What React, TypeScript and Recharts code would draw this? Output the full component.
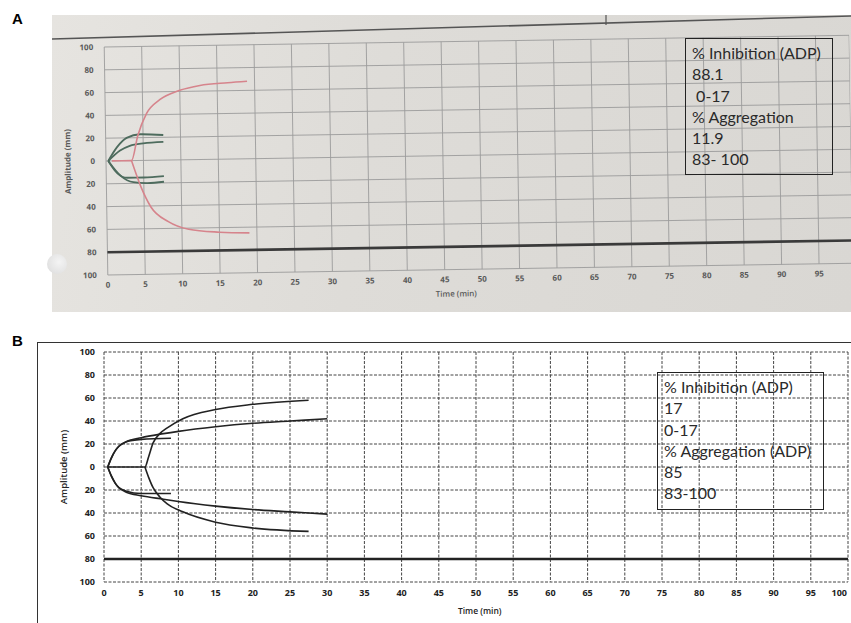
import React from "react";
import { LineChart, Line, XAxis, YAxis, CartesianGrid, ReferenceLine, Label } from "recharts";

// shared axis ticks (amplitude is drawn both ways from 0)
const yTicks = [100, 80, 60, 40, 20, 0, -20, -40, -60, -80, -100];
const xTicksA = [0, 5, 10, 15, 20, 25, 30, 35, 40, 45, 50, 55, 60, 65, 70, 75, 80, 85, 90, 95];
const xTicksB = [0, 5, 10, 15, 20, 25, 30, 35, 40, 45, 50, 55, 60, 65, 70, 75, 80, 85, 90, 95, 100];

// Panel A tracings (t in min, mm amplitude)
const pinkUpperA = [
  { t: 0.8, mm: 0 }, { t: 3.4, mm: 0 }, { t: 4.3, mm: 22 }, { t: 5.5, mm: 41 }, { t: 7.3, mm: 53 },
  { t: 10, mm: 61 }, { t: 12.7, mm: 65 }, { t: 16.4, mm: 67 }, { t: 19, mm: 68 },
];
const pinkLowerA = [
  { t: 3.4, mm: 0 }, { t: 4.6, mm: -23 }, { t: 5.9, mm: -41 }, { t: 8.2, mm: -54 },
  { t: 10.9, mm: -61 }, { t: 15, mm: -64 }, { t: 19, mm: -65 },
];
const greenUpper1A = [{ t: 0.3, mm: 0 }, { t: 1.5, mm: 12 }, { t: 2.8, mm: 20 }, { t: 4.6, mm: 23 }, { t: 7.7, mm: 22 }];
const greenUpper2A = [{ t: 0.3, mm: 0 }, { t: 1.9, mm: 9 }, { t: 3.2, mm: 13 }, { t: 5, mm: 15 }, { t: 7.7, mm: 16 }];
const greenLower1A = [{ t: 0.3, mm: 0 }, { t: 1.9, mm: -13 }, { t: 3.6, mm: -19 }, { t: 5.5, mm: -20 }, { t: 7.7, mm: -19 }];
const greenLower2A = [{ t: 0.3, mm: 0 }, { t: 1.5, mm: -11 }, { t: 2.8, mm: -15 }, { t: 5, mm: -15 }, { t: 7.7, mm: -14 }];

// Panel B tracings
const fastUpShortB = [
  { t: 0.5, mm: 0 }, { t: 1, mm: 8 }, { t: 1.5, mm: 14 }, { t: 2, mm: 18 }, { t: 3, mm: 22 }, { t: 5, mm: 24 }, { t: 9, mm: 25 },
];
const fastUpLongB = [
  { t: 0.5, mm: 0 }, { t: 1, mm: 8 }, { t: 1.5, mm: 14 }, { t: 2, mm: 18 }, { t: 3, mm: 22 }, { t: 5, mm: 25.5 },
  { t: 8, mm: 29 }, { t: 10, mm: 31 }, { t: 15, mm: 35 }, { t: 20, mm: 38 }, { t: 25, mm: 40 }, { t: 30, mm: 42 },
];
const fastDownShortB = [
  { t: 0.5, mm: 0 }, { t: 1, mm: -8 }, { t: 1.5, mm: -14 }, { t: 2, mm: -18 }, { t: 3, mm: -21 }, { t: 5, mm: -23 }, { t: 9, mm: -23 },
];
const fastDownLongB = [
  { t: 0.5, mm: 0 }, { t: 1, mm: -8 }, { t: 1.5, mm: -14 }, { t: 2, mm: -18 }, { t: 3, mm: -22 }, { t: 5, mm: -25 },
  { t: 8, mm: -28 }, { t: 10, mm: -30 }, { t: 15, mm: -34 }, { t: 20, mm: -37 }, { t: 25, mm: -39 }, { t: 30, mm: -41 },
];
const slowUpB = [
  { t: 0.5, mm: 0 }, { t: 5.5, mm: 0 }, { t: 6, mm: 9 }, { t: 6.6, mm: 21 }, { t: 7.5, mm: 29 }, { t: 8.5, mm: 34 },
  { t: 10.6, mm: 42 }, { t: 15, mm: 50 }, { t: 20, mm: 54.5 }, { t: 27.5, mm: 58 },
];
const slowDownB = [
  { t: 5.5, mm: 0 }, { t: 6, mm: -9 }, { t: 6.6, mm: -18 }, { t: 7.5, mm: -26 }, { t: 8.5, mm: -32 },
  { t: 10.6, mm: -39 }, { t: 15, mm: -48 }, { t: 20, mm: -53 }, { t: 27.5, mm: -56 },
];

const boxLinesA = ["% Inhibition (ADP)", "88.1", "\u00a00-17", "% Aggregation", "11.9", "83- 100"];
const boxLinesB = ["% Inhibition (ADP)", "17", "0-17", "% Aggregation (ADP)", "85", "83-100"];

const tickFont = "'Open Sans', sans-serif";

const xTitle = (at: number, max: number, fromBottom: number, size: number, color: string) => (p: any) => {
  const { x, y, width, height } = p.viewBox;
  return (
    <text x={x + (at / max) * width} y={y + height - fromBottom} textAnchor="middle"
      fontFamily={tickFont} fontWeight={600} fontSize={size} fill={color}>Time (min)</text>
  );
};

const yTitle = (cxOff: number, size: number, color: string, weight: number) => (p: any) => {
  const { x, y, height } = p.viewBox;
  const cx = x + cxOff;
  const cy = y + height / 2;
  return (
    <text x={cx} y={cy} transform={`rotate(-90 ${cx} ${cy})`} textAnchor="middle" dominantBaseline="central"
      fontFamily={tickFont} fontWeight={weight} fontSize={size} fill={color}>Amplitude (mm)</text>
  );
};

// B's last time label sits inside the frame
const BTimeTick = (p: any) => {
  const { x, y, payload } = p;
  const last = payload.value === 100;
  return (
    <text x={last ? x - 1 : x} y={y} dy="0.72em" textAnchor={last ? "end" : "middle"}
      fontFamily={tickFont} fontWeight={700} fontSize={9} fill="#222">{payload.value}</text>
  );
};

function Box({ lines, left, top, width, height, size }: any) {
  return (
    <div style={{
      position: "absolute", left, top, width, height, border: "1px solid #222", boxSizing: "border-box",
      fontFamily: "Lato, sans-serif", fontSize: size, lineHeight: "21.3px", color: "#2a2a2a", padding: "3px 0 0 6px",
      whiteSpace: "nowrap",
    }}>
      {lines.map((l: string, i: number) => <div key={i}>{l}</div>)}
    </div>
  );
}

export default function App() {
  return (
    <div style={{ position: "absolute", left: 0, top: 0, width: 851, height: 623, background: "#fff", overflow: "hidden" }}>
      {/* Panel A: photo of a tracing */}
      <div style={{ position: "absolute", left: 52, top: 15, width: 799, height: 297,
        background: "linear-gradient(100deg, #e6e4e0 0%, #dedcd8 40%, #d9d7d3 100%)" }} />
      <div style={{ position: "absolute", left: 47, top: 254, width: 20, height: 20, borderRadius: "50%",
        background: "radial-gradient(circle at 60% 40%, #f4f4f4 0%, #e2e2e2 70%, #c8c8c8 100%)" }} />
      <svg width={851} height={60} style={{ position: "absolute", left: 0, top: 0 }}>
        <line x1={52} y1={39} x2={851} y2={16} stroke="#555" strokeWidth={1.6} />
        <line x1={606} y1={15} x2={606} y2={25} stroke="#555" strokeWidth={1.2} />
      </svg>
      <div style={{ position: "absolute", left: 0, top: 0, transform: "rotate(-0.9deg)", transformOrigin: "106px 160px" }}>
        <LineChart width={851} height={312} margin={{ top: 47, right: 0, bottom: 0, left: 0 }}>
          <CartesianGrid stroke="#9c9c9c" strokeWidth={0.9} />
          <XAxis type="number" dataKey="t" domain={[0, 99.5]} ticks={xTicksA} axisLine={false} tickLine={false}
            tickSize={0} tickMargin={7} height={37} interval={0}
            tick={{ fontFamily: tickFont, fontWeight: 700, fontSize: 8, fill: "#5a5a5a" }}>
            <Label content={xTitle(46.5, 99.5, 10, 8, "#5a5a5a")} />
          </XAxis>
          <YAxis type="number" dataKey="mm" domain={[-100, 100]} ticks={yTicks} axisLine={false} tickLine={false}
            tickSize={0} tickMargin={11} width={106} interval={0} tickFormatter={(v: number) => String(Math.abs(v))}
            tick={{ fontFamily: tickFont, fontWeight: 700, fontSize: 8, fill: "#5a5a5a" }}>
            <Label content={yTitle(67, 8, "#5a5a5a", 700)} />
          </YAxis>
          <ReferenceLine y={-80} stroke="#3a3a3a" strokeWidth={2.6} />
          <Line data={greenUpper1A} dataKey="mm" type="monotone" stroke="#4e6c5e" strokeWidth={1.8} dot={false} isAnimationActive={false} />
          <Line data={greenUpper2A} dataKey="mm" type="monotone" stroke="#4e6c5e" strokeWidth={1.8} dot={false} isAnimationActive={false} />
          <Line data={greenLower1A} dataKey="mm" type="monotone" stroke="#4e6c5e" strokeWidth={1.8} dot={false} isAnimationActive={false} />
          <Line data={greenLower2A} dataKey="mm" type="monotone" stroke="#4e6c5e" strokeWidth={1.8} dot={false} isAnimationActive={false} />
          <Line data={pinkUpperA} dataKey="mm" type="monotone" stroke="#d6848c" strokeWidth={1.6} dot={false} isAnimationActive={false} />
          <Line data={pinkLowerA} dataKey="mm" type="monotone" stroke="#d6848c" strokeWidth={1.6} dot={false} isAnimationActive={false} />
        </LineChart>
      </div>
      <Box lines={boxLinesA} left={685} top={38} width={148} height={137} size={16} />
      <div style={{ position: "absolute", left: 12, top: 10, fontFamily: "'Liberation Sans', Arial, sans-serif", fontWeight: 700, fontSize: 15 }}>A</div>

      {/* Panel B: printed tracing */}
      <div style={{ position: "absolute", left: 38, top: 342, width: 813, height: 0, borderTop: "1.8px solid #333" }} />
      <div style={{ position: "absolute", left: 37, top: 342, width: 0, height: 281, borderLeft: "1.8px solid #333" }} />
      <div style={{ position: "absolute", left: 0, top: 330 }}>
        <LineChart width={851} height={293} margin={{ top: 22, right: 3, bottom: 0, left: 0 }}>
          <CartesianGrid stroke="#444" strokeWidth={1} strokeDasharray="3 1.5" />
          <XAxis type="number" dataKey="t" domain={[0, 100]} ticks={xTicksB} axisLine={false} tickLine={false}
            tickSize={0} tickMargin={8} height={41} interval={0} tick={<BTimeTick />}>
            <Label content={xTitle(50.5, 100, 9, 8.5, "#222")} />
          </XAxis>
          <YAxis type="number" dataKey="mm" domain={[-100, 100]} ticks={yTicks} axisLine={false} tickLine={false}
            tickSize={0} tickMargin={9} width={104} interval={0} tickFormatter={(v: number) => String(Math.abs(v))}
            tick={{ fontFamily: tickFont, fontWeight: 700, fontSize: 9, fill: "#222" }}>
            <Label content={yTitle(63, 9.5, "#222", 600)} />
          </YAxis>
          <ReferenceLine y={-80} stroke="#222" strokeWidth={2.6} />
          <Line data={fastUpShortB} dataKey="mm" type="monotone" stroke="#222" strokeWidth={1.6} dot={false} isAnimationActive={false} />
          <Line data={fastUpLongB} dataKey="mm" type="monotone" stroke="#222" strokeWidth={1.6} dot={false} isAnimationActive={false} />
          <Line data={fastDownShortB} dataKey="mm" type="monotone" stroke="#222" strokeWidth={1.6} dot={false} isAnimationActive={false} />
          <Line data={fastDownLongB} dataKey="mm" type="monotone" stroke="#222" strokeWidth={1.6} dot={false} isAnimationActive={false} />
          <Line data={slowUpB} dataKey="mm" type="monotone" stroke="#222" strokeWidth={1.6} dot={false} isAnimationActive={false} />
          <Line data={slowDownB} dataKey="mm" type="monotone" stroke="#222" strokeWidth={1.6} dot={false} isAnimationActive={false} />
        </LineChart>
      </div>
      <Box lines={boxLinesB} left={657} top={372} width={167} height={138} size={16} />
      <div style={{ position: "absolute", left: 12, top: 332, fontFamily: "'Liberation Sans', Arial, sans-serif", fontWeight: 700, fontSize: 15 }}>B</div>
    </div>
  );
}
